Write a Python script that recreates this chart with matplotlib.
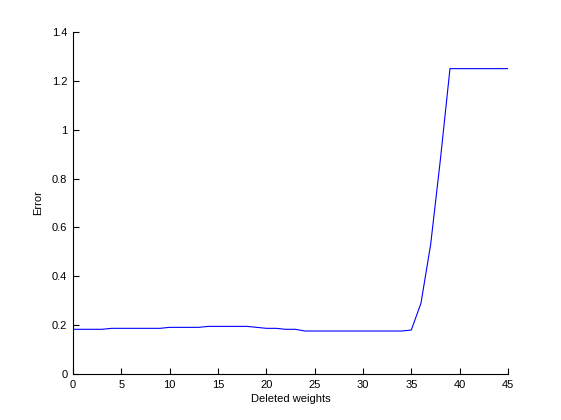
import matplotlib
matplotlib.use("Agg")
import matplotlib.pyplot as plt

deleted = list(range(0, 46))
error = ([0.183] * 4 + [0.187] * 6 + [0.191] * 4 + [0.195] * 5 + [0.191] +
         [0.187] * 2 + [0.183] * 2 + [0.176] * 11 + [0.180] +
         [0.29, 0.53, 0.875] + [1.25] * 7)

xticks = [0, 5, 10, 15, 20, 25, 30, 35, 40, 45]
yticks = [0, 0.2, 0.4, 0.6, 0.8, 1, 1.2, 1.4]
ytick_labels = ["0", "0.2", "0.4", "0.6", "0.8", "1", "1.2", "1.4"]

plt.rcParams['font.family'] = ['Liberation Sans', 'DejaVu Sans']
fig = plt.figure(figsize=(5.61, 4.2), dpi=100)
ax = fig.add_axes([0.13, 0.1095, 0.7755, 0.8143])
ax.plot(deleted, error, color=(0, 0, 1), lw=0.8)
ax.set_xlim(0, 45)
ax.set_ylim(0, 1.4)
ax.set_xticks(xticks)
ax.set_yticks(yticks)
ax.set_yticklabels(ytick_labels)
for s in ['top', 'right']:
    ax.spines[s].set_visible(False)
for s in ['left', 'bottom']:
    ax.spines[s].set_linewidth(0.8)
ax.tick_params(direction='in', length=4, width=0.8, labelsize=8, pad=4)
ax.set_xlabel("Deleted weights", fontsize=8, labelpad=3)
ax.set_ylabel("Error", fontsize=8, labelpad=6)
fig.savefig("out.png", dpi=100)
